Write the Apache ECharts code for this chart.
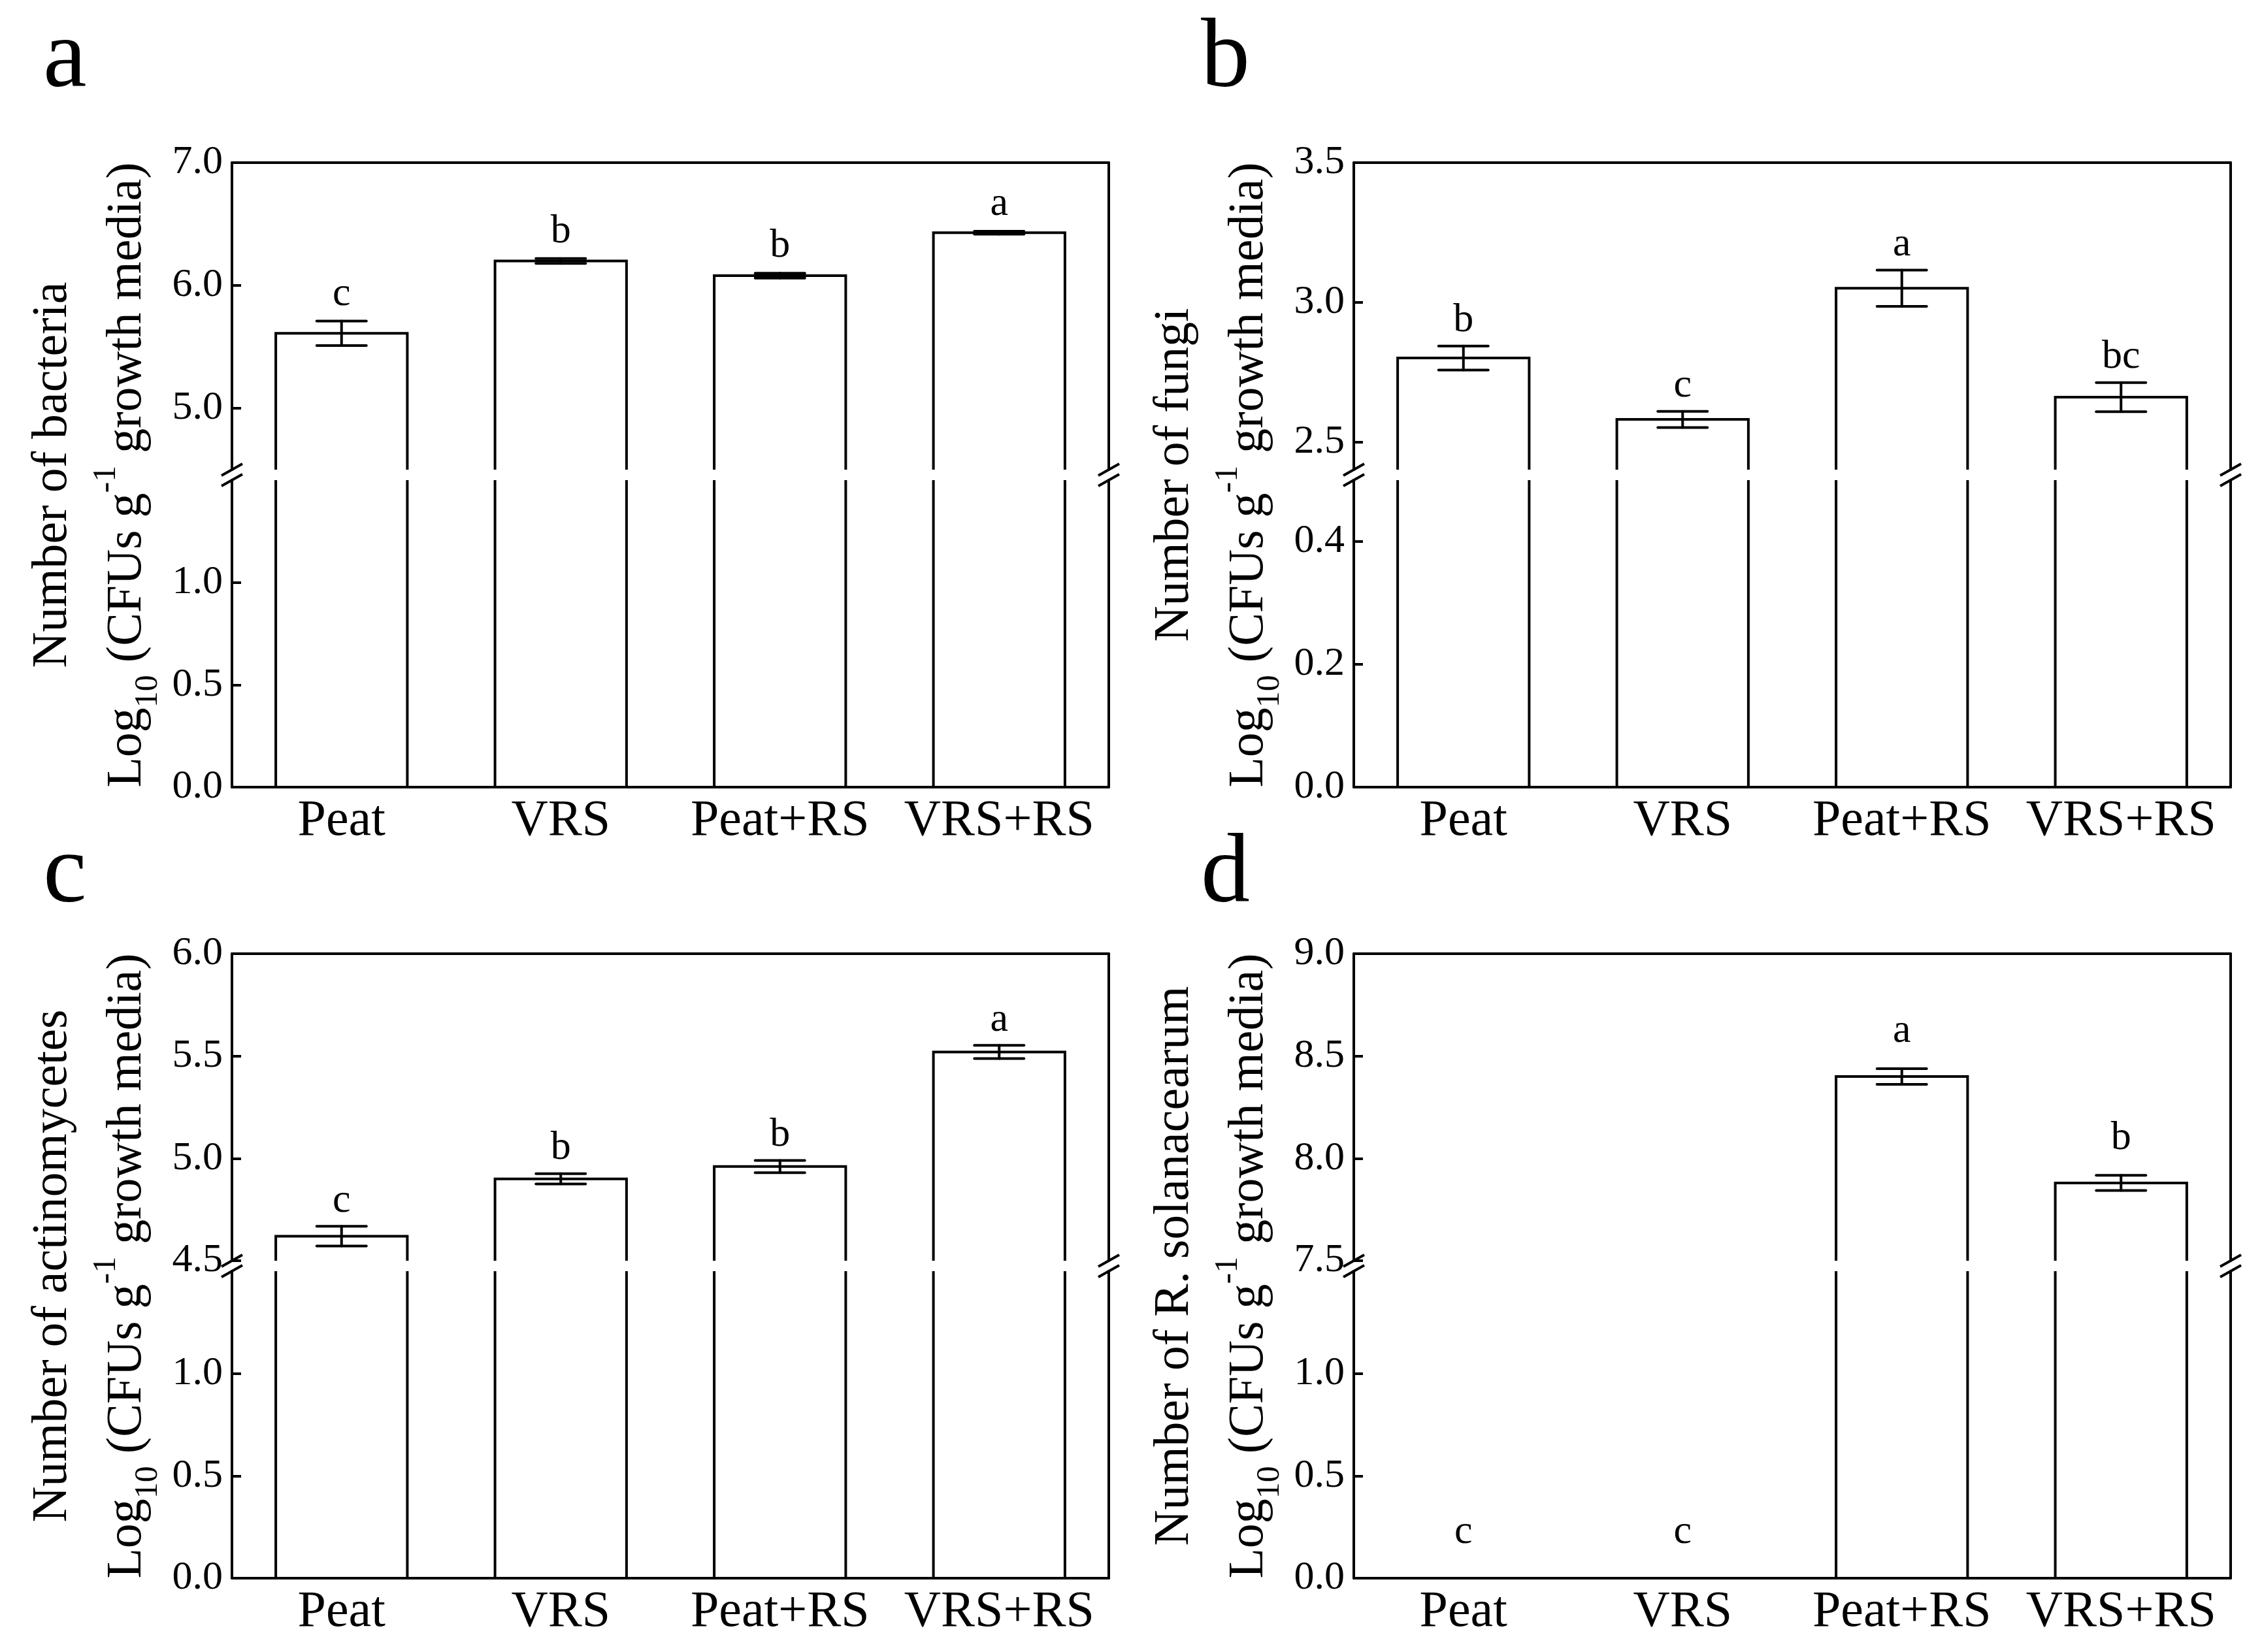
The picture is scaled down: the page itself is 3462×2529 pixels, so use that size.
<!DOCTYPE html>
<html>
<head>
<meta charset="utf-8">
<script src="https://cdn.jsdelivr.net/npm/echarts@6.0.0/dist/echarts.min.js"></script>
</head>
<body style="margin:0; background:#fff">
<div id="main" style="width:3462px; height:2529px"></div>
<script>
var categories = ['Peat', 'VRS', 'Peat+RS', 'VRS+RS'];

// a: bacteria
var bacteria        = [5.61, 6.20, 6.08, 6.43];
var bacteriaErr     = [0.10, 0.02, 0.02, 0.012];
var bacteriaLetters = ['c', 'b', 'b', 'a'];
// b: fungi
var fungi        = [2.80, 2.58, 3.05, 2.66];
var fungiErr     = [0.043, 0.029, 0.065, 0.052];
var fungiLetters = ['b', 'c', 'a', 'bc'];
// c: actinomycetes
var actino        = [4.62, 4.90, 4.96, 5.52];
var actinoErr     = [0.048, 0.025, 0.03, 0.032];
var actinoLetters = ['c', 'b', 'b', 'a'];
// d: R. solanacearum
var rs        = [0, 0, 8.40, 7.88];
var rsErr     = [0, 0, 0.038, 0.037];
var rsLetters = ['c', 'c', 'a', 'b'];

// broken y axes: upper and lower ranges with their tick labels
var bacteriaUpper = [4.5, 7.0], bacteriaUpperTicks = [5.0, 6.0, 7.0];
var bacteriaLower = [0, 1.5],   bacteriaLowerTicks = [0.0, 0.5, 1.0];
var fungiUpper = [2.4, 3.5], fungiUpperTicks = [2.5, 3.0, 3.5];
var fungiLower = [0, 0.5],   fungiLowerTicks = [0.0, 0.2, 0.4];
var actinoUpper = [4.5, 6.0], actinoUpperTicks = [4.5, 5.0, 5.5, 6.0];
var actinoLower = [0, 1.5],   actinoLowerTicks = [0.0, 0.5, 1.0];
var rsUpper = [7.5, 9.0], rsUpperTicks = [7.5, 8.0, 8.5, 9.0];
var rsLower = [0, 1.5],   rsLowerTicks = [0.0, 0.5, 1.0];

var FONT = '"Liberation Serif", "Times New Roman", serif';
var LW = 4;
var BAR_FRAC = 0.6;
var CAP = 38;
var COL_LEFT = [355, 2072], PLOT_W = 1342;
var ROW_TOP = [249, 1460];
var UPPER_H = 470, GAP = 16, LOWER_H = 470;

var panels = [
    {tag: 'a', title: 'Number of bacteria', values: bacteria, err: bacteriaErr, letters: bacteriaLetters,
     upper: bacteriaUpper, upperTicks: bacteriaUpperTicks, lower: bacteriaLower, lowerTicks: bacteriaLowerTicks,
     col: 0, row: 0, letterGap: 10},
    {tag: 'b', title: 'Number of fungi', values: fungi, err: fungiErr, letters: fungiLetters,
     upper: fungiUpper, upperTicks: fungiUpperTicks, lower: fungiLower, lowerTicks: fungiLowerTicks,
     col: 1, row: 0, letterGap: 8},
    {tag: 'c', title: 'Number of actinomycetes', values: actino, err: actinoErr, letters: actinoLetters,
     upper: actinoUpper, upperTicks: actinoUpperTicks, lower: actinoLower, lowerTicks: actinoLowerTicks,
     col: 0, row: 1, letterGap: 8},
    {tag: 'd', title: 'Number of R. solanacearum', values: rs, err: rsErr, letters: rsLetters,
     upper: rsUpper, upperTicks: rsUpperTicks, lower: rsLower, lowerTicks: rsLowerTicks,
     col: 1, row: 1, letterGap: 26}
];
var TAG_Y = [168, 1416];
var TAG_X = [66, 1838];

var black = {color: '#000', width: LW};
var strokeStyle = {stroke: '#000', lineWidth: LW, fill: 'none', lineJoin: 'miter'};
var errStyle = {stroke: '#000', lineWidth: LW, lineCap: 'round'};

function letterText(x, y, txt) {
    return {type: 'text', x: x, y: y,
        style: {text: txt, fontSize: 62, fontFamily: FONT, fill: '#000', align: 'center', verticalAlign: 'bottom'}};
}

function upperItem(p) {
    return function (params, api) {
        var i = params.dataIndex;
        var v = api.value(1), e = api.value(2);
        if (v < p.upper[0]) return null;
        var half = api.size([1, 0])[0] * BAR_FRAC / 2;
        var base = api.coord([i, p.upper[0]]);
        var top = api.coord([i, v]);
        var hi = api.coord([i, v + e]);
        var lo = api.coord([i, v - e]);
        var cx = top[0];
        return {type: 'group', children: [
            {type: 'polyline', shape: {points: [[cx - half, base[1]], [cx - half, top[1]], [cx + half, top[1]], [cx + half, base[1]]]}, style: strokeStyle},
            {type: 'line', shape: {x1: cx, y1: hi[1], x2: cx, y2: lo[1]}, style: errStyle},
            {type: 'line', shape: {x1: cx - CAP, y1: hi[1], x2: cx + CAP, y2: hi[1]}, style: errStyle},
            {type: 'line', shape: {x1: cx - CAP, y1: lo[1], x2: cx + CAP, y2: lo[1]}, style: errStyle},
            letterText(cx, hi[1] - p.letterGap, p.letters[i])
        ]};
    };
}

function lowerItem(p) {
    return function (params, api) {
        var i = params.dataIndex;
        var v = api.value(1);
        var half = api.size([1, 0])[0] * BAR_FRAC / 2;
        var zero = api.coord([i, 0]);
        var cx = zero[0];
        var children = [];
        if (v > 0) {
            var top = api.coord([i, Math.min(v, p.lower[1])]);
            children.push({type: 'line', shape: {x1: cx - half, y1: zero[1], x2: cx - half, y2: top[1]}, style: strokeStyle});
            children.push({type: 'line', shape: {x1: cx + half, y1: zero[1], x2: cx + half, y2: top[1]}, style: strokeStyle});
        }
        if (v < p.upper[0]) {
            children.push(letterText(cx, zero[1] - 39, p.letters[i]));
        }
        return {type: 'group', children: children};
    };
}

function valueAxis(grid, range, ticks) {
    return {type: 'value', gridIndex: grid, position: 'left', min: range[0], max: range[1],
        axisLine: {show: true, onZero: false, lineStyle: black},
        axisTick: {show: true, inside: true, length: 14, lineStyle: black, customValues: ticks},
        axisLabel: {show: true, customValues: ticks, margin: 14, color: '#000', fontSize: 62, fontFamily: FONT,
            formatter: function (v) { return v.toFixed(1); }},
        splitLine: {show: false}};
}

function sideAxis(grid, range) {
    return {type: 'value', gridIndex: grid, position: 'right', min: range[0], max: range[1],
        axisLine: {show: true, onZero: false, lineStyle: black},
        axisTick: {show: false}, axisLabel: {show: false}, splitLine: {show: false}};
}

var grids = [], xAxes = [], yAxes = [], series = [], graphics = [];

panels.forEach(function (p) {
    var left = COL_LEFT[p.col], top = ROW_TOP[p.row];
    var data = p.values.map(function (v, i) { return [i, v, p.err[i]]; });

    var gU = grids.length;
    grids.push({left: left, top: top, width: PLOT_W, height: UPPER_H, outerBoundsMode: 'none'});
    var gL = grids.length;
    grids.push({left: left, top: top + UPPER_H + GAP, width: PLOT_W, height: LOWER_H, outerBoundsMode: 'none'});
    var gF = grids.length;
    grids.push({left: left, top: top, width: PLOT_W, height: UPPER_H + GAP + LOWER_H, outerBoundsMode: 'none'});

    var xU = xAxes.length;
    xAxes.push({type: 'category', gridIndex: gU, data: categories, position: 'top',
        axisLine: {show: true, onZero: false, lineStyle: black}, axisTick: {show: false}, axisLabel: {show: false}});
    var xL = xAxes.length;
    xAxes.push({type: 'category', gridIndex: gL, data: categories, position: 'bottom',
        axisLine: {show: true, onZero: false, lineStyle: black}, axisTick: {show: false},
        axisLabel: {show: true, interval: 0, margin: 14, color: '#000', fontSize: 78, fontFamily: FONT}});
    xAxes.push({type: 'category', gridIndex: gF, data: categories, show: false});

    var yU = yAxes.length;
    yAxes.push(valueAxis(gU, p.upper, p.upperTicks));
    yAxes.push(sideAxis(gU, p.upper));
    var yL = yAxes.length;
    yAxes.push(valueAxis(gL, p.lower, p.lowerTicks));
    yAxes.push(sideAxis(gL, p.lower));
    yAxes.push({type: 'value', gridIndex: gF, min: 0, max: 1,
        axisLine: {show: false}, axisTick: {show: false}, axisLabel: {show: false}, splitLine: {show: false},
        name: p.title + '\nLog{sub|10} (CFUs g{sup|-1} growth media)',
        nameLocation: 'middle', nameRotate: 90, nameGap: 103, nameMoveOverlap: false,
        nameTextStyle: {color: '#000', fontSize: 76, fontFamily: FONT, lineHeight: 114,
            rich: {
                sub: {fontSize: 50, fontFamily: FONT, color: '#000', lineHeight: 34, verticalAlign: 'bottom'},
                sup: {fontSize: 50, fontFamily: FONT, color: '#000', lineHeight: 50, verticalAlign: 'top'}
            }}});

    series.push({type: 'custom', xAxisIndex: xU, yAxisIndex: yU, data: data, renderItem: upperItem(p), clip: false, silent: true});
    series.push({type: 'custom', xAxisIndex: xL, yAxisIndex: yL, data: data, renderItem: lowerItem(p), clip: false, silent: true});

    // break marks on both side axes
    [left, left + PLOT_W].forEach(function (x) {
        [top + UPPER_H, top + UPPER_H + GAP].forEach(function (y) {
            graphics.push({type: 'line', shape: {x1: x - 16, y1: y + 9, x2: x + 16, y2: y - 9},
                style: {stroke: '#000', lineWidth: LW}, silent: true});
        });
    });

    graphics.push({type: 'text', x: TAG_X[p.col], y: TAG_Y[p.row],
        style: {text: p.tag, fontSize: 150, fontFamily: FONT, fill: '#000', align: 'left', verticalAlign: 'bottom'}});
});

var myChart = echarts.init(document.getElementById('main'), null, {renderer: 'canvas'});
myChart.setOption({
    backgroundColor: '#fff',
    animation: false,
    grid: grids,
    xAxis: xAxes,
    yAxis: yAxes,
    series: series,
    graphic: graphics
});
</script>
</body>
</html>
